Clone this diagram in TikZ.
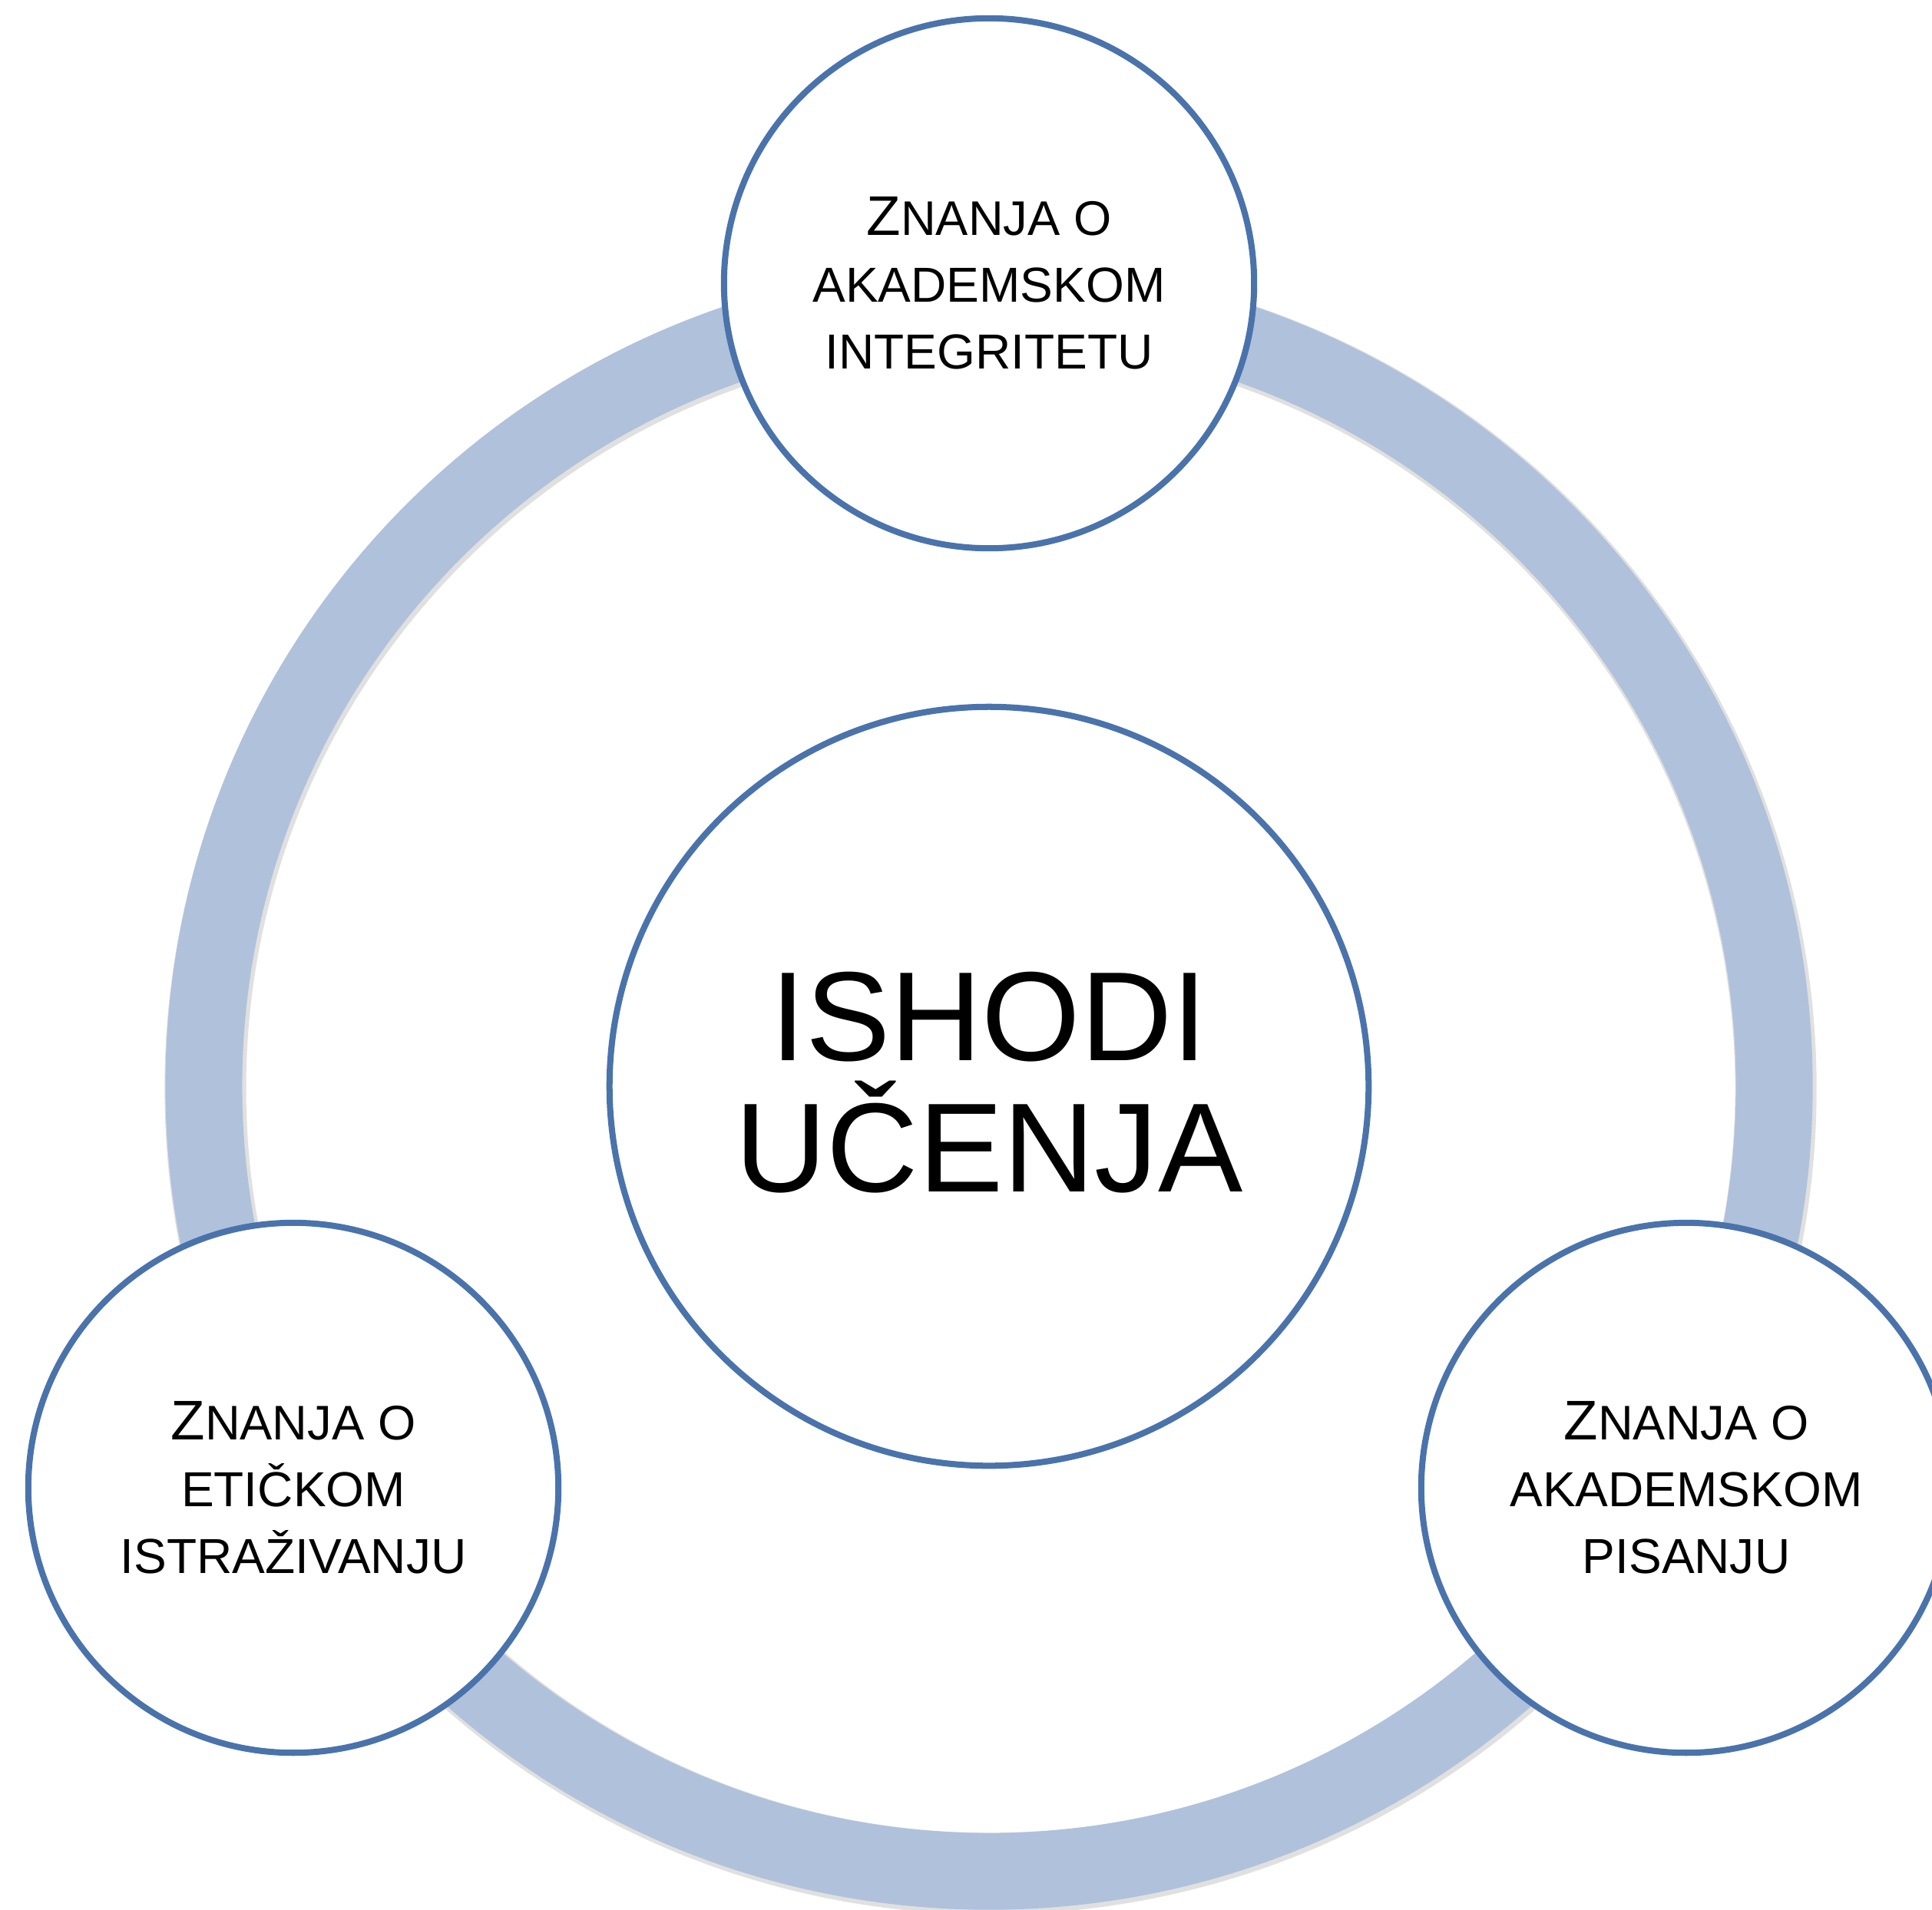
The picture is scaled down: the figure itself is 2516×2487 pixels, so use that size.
\documentclass[tikz,border=0pt]{standalone}
\usepackage{fontspec}
\setmainfont{Liberation Sans}
\usetikzlibrary{shadows}
\definecolor{ringblue}{HTML}{B0C1DB}
\definecolor{edgeblue}{HTML}{4A73AB}
\newcommand{\znline}{{\fontsize{20.7pt}{24.75pt}\selectfont Z}{\fontsize{18.0pt}{24.75pt}\selectfont NANJA O}}
\begin{document}
\begin{tikzpicture}[x=0.01cm,y=-0.01cm,
  bubble/.style={circle, draw=edgeblue, line width=2.28pt, fill=white, inner sep=0pt,
    align=center, text=black,
    drop shadow={shadow xshift=0.6pt, shadow yshift=-0.9pt, opacity=0.18, fill=black}},
  smallbubble/.style={bubble, minimum size=6.9cm, font=\fontsize{18.21pt}{24.75pt}\selectfont},
  bigbubble/.style={bubble, minimum size=9.88cm, font=\fontsize{47pt}{48.4pt}\selectfont}]
\useasboundingbox (0,0) rectangle (2516,2487);
\clip (0,0) rectangle (2516,2487);
\fill[white] (0,0) rectangle (2516,2487);
% ring
\coordinate (ringc) at (1288,1415);
\draw[black, opacity=0.12, line width=30.2pt] ([shift={(2,3)}]ringc) circle [radius=10.22cm];
\draw[ringblue, line width=28.45pt] (ringc) circle [radius=10.22cm];
% centre
\node[bigbubble] (centre) at (ringc) {};
\node[align=center, inner sep=0pt, font=\fontsize{47pt}{48.4pt}\selectfont] (centretext) at ([yshift=1.4pt]centre.center) {ISHODI\\UČENJA};
% satellites
\node[smallbubble] (top) at (1288,369) {\znline\\AKADEMSKOM\\INTEGRITETU};
\node[smallbubble] (left) at (382,1938) {\znline\\ETIČKOM\\ISTRAŽIVANJU};
\node[smallbubble] (right) at (2196,1938) {\znline\\AKADEMSKOM\\PISANJU};
\end{tikzpicture}
\end{document}
